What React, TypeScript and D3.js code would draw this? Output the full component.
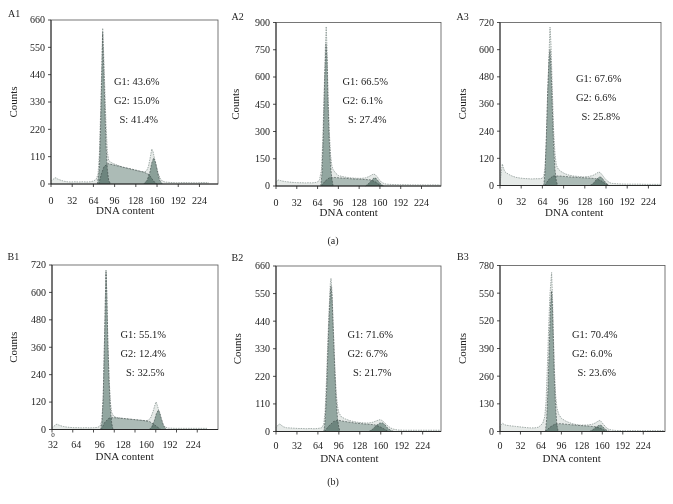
import React from 'react';
import * as d3 from 'd3';

type Pt = [number, number];

// x axis ticks (DNA content channels)
const xTickValues = [0, 32, 64, 96, 128, 160, 192, 224];
// B1 prints its labels shifted
const b1XLabels = [32, 64, 96, 128, 160, 192, 224];

const a1YTicks = [0, 110, 220, 330, 440, 550, 660];
const a2YTicks = [0, 150, 300, 450, 600, 750, 900];
const a3YTicks = [0, 120, 240, 360, 480, 600, 720];
const b1YTicks = [0, 120, 240, 360, 480, 600, 720];
const b2YTicks = [0, 110, 220, 330, 440, 550, 660];
const b3YTicks = [0, 130, 260, 390, 520, 650, 780];
const b3YLabels = ['0', '130', '260', '390', '520', '550', '780'];

const a1Pct = ['G1: 43.6%', 'G2: 15.0%', 'S: 41.4%'];
const a2Pct = ['G1: 66.5%', 'G2: 6.1%', 'S: 27.4%'];
const a3Pct = ['G1: 67.6%', 'G2: 6.6%', 'S: 25.8%'];
const b1Pct = ['G1: 55.1%', 'G2: 12.4%', 'S: 32.5%'];
const b2Pct = ['G1: 71.6%', 'G2: 6.7%', 'S: 21.7%'];
const b3Pct = ['G1: 70.4%', 'G2: 6.0%', 'S: 23.6%'];

// raw histograms [channel, counts]
const a1Raw: Pt[] = [[0,12],[3,18],[6,25],[8,24],[10,20],[13,17],[16,14],[20,11],[25,9],[30,8],[36,9],[42,8],[48,9],[54,8],[60,9],[64,12],[68,18],[71,40],[73,120],[75,300],[77,520],[78,627],[79,560],[81,400],[83,240],[85,130],[87,95],[90,88],[94,82],[98,78],[104,72],[110,66],[116,62],[122,58],[128,54],[134,50],[140,48],[144,52],[147,70],[150,110],[152,141],[154,130],[156,105],[159,70],[162,40],[165,22],[168,12],[172,8],[180,6],[190,5],[200,6],[210,5],[220,5],[230,6],[238,5]];
const a1G1: Pt[] = [[70,0],[73,60],[75,250],[77,480],[78,610],[79,520],[81,330],[83,160],[85,60],[87,15],[90,0]];
const a1S: Pt[] = [[72,0],[76,40],[80,70],[86,82],[95,76],[110,67],[125,58],[140,48],[148,38],[152,22],[156,8],[160,0]];
const a1G2: Pt[] = [[140,0],[145,15],[149,45],[152,85],[155,105],[158,85],[161,45],[164,15],[168,0]];

const a2Raw: Pt[] = [[0,20],[2,30],[4,33],[7,30],[10,27],[15,24],[20,22],[25,20],[30,19],[35,18],[40,18],[45,17],[50,18],[55,17],[60,19],[64,22],[67,35],[70,90],[72,250],[74,500],[76,760],[77.3,878],[78.5,760],[80,520],[82,300],[84,170],[86,110],[88,90],[92,70],[96,58],[102,52],[108,48],[114,45],[120,43],[126,42],[132,42],[138,45],[143,52],[147,60],[150,66],[153,62],[156,50],[159,35],[162,22],[166,14],[170,10],[180,8],[190,7],[200,7],[210,6],[220,6],[230,6],[240,6],[253,6]];
const a2G1: Pt[] = [[69,0],[71,80],[73,300],[75,600],[77,780],[78.5,700],[80,470],[82,250],[84,110],[86,40],[88,0]];
const a2S: Pt[] = [[70,0],[75,25],[82,45],[90,47],[100,44],[115,40],[130,37],[145,34],[152,25],[158,10],[164,0]];
const a2G2: Pt[] = [[138,0],[143,15],[148,35],[151,45],[154,42],[158,25],[162,8],[166,0]];

const a3Raw: Pt[] = [[0,10],[2,60],[3.5,95],[5,80],[7,62],[10,55],[14,48],[18,42],[24,36],[30,33],[36,31],[42,30],[48,29],[54,30],[60,30],[64,32],[66,40],[68,80],[70,200],[72,400],[74,580],[75.5,700],[77,620],[79,420],[81,240],[83,140],[85,90],[88,72],[92,62],[98,52],[104,46],[110,42],[118,40],[126,38],[134,40],[140,44],[145,52],[149,60],[152,55],[155,44],[158,32],[162,20],[166,12],[170,9],[180,7],[190,6],[200,6],[210,6],[220,5],[230,5],[242,5]];
const a3G1: Pt[] = [[66,0],[68,60],[70,220],[72,420],[74,560],[75.5,600],[77,520],[79,340],[81,170],[83,70],[85,20],[87,0]];
const a3S: Pt[] = [[68,0],[73,25],[80,42],[90,42],[105,38],[120,35],[135,33],[145,30],[152,22],[158,10],[164,0]];
const a3G2: Pt[] = [[136,0],[141,10],[146,28],[150,38],[153,36],[157,22],[161,8],[165,0]];

const b1Raw: Pt[] = [[0,8],[3,14],[6,22],[8,23],[10,20],[14,16],[18,13],[22,11],[28,9],[34,8],[40,8],[46,7],[52,8],[58,7],[64,8],[70,9],[74,14],[77,40],[79,150],[81,400],[82.5,600],[83.3,700],[84.5,600],[86,400],[88,230],[90,120],[92,75],[95,58],[100,52],[106,50],[112,48],[118,46],[124,44],[130,42],[136,40],[142,38],[148,40],[152,50],[156,80],[159,110],[160.5,121],[162.5,105],[165,80],[168,45],[171,22],[175,10],[180,6],[190,5],[200,5],[210,5],[220,5],[230,5],[239,5]];
const b1G1: Pt[] = [[75,0],[77,30],[79,140],[81,390],[82.5,590],[83.3,690],[84.5,590],[86,390],[88,210],[90,90],[92,30],[94,0]];
const b1S: Pt[] = [[76,0],[81,30],[88,50],[95,52],[110,48],[125,44],[140,40],[150,35],[156,25],[162,12],[168,0]];
const b1G2: Pt[] = [[150,0],[154,12],[158,40],[161,70],[164,85],[166,75],[169,45],[172,18],[176,0]];

const b2Raw: Pt[] = [[0,15],[2,22],[4,28],[6,30],[8,25],[12,18],[16,15],[22,14],[28,13],[34,12],[40,12],[46,11],[52,12],[58,11],[64,12],[70,15],[73,30],[75,80],[77,200],[79,350],[81,480],[83,590],[84,611],[85.5,560],[87.5,420],[90,250],[92,150],[94,100],[96,75],[100,58],[106,50],[112,44],[118,40],[124,37],[130,35],[136,34],[142,34],[148,37],[153,42],[157,46],[159,47],[162,44],[166,35],[170,24],[175,14],[180,9],[186,6],[195,5],[205,5],[215,5],[225,5],[240,5],[251,5]];
const b2G1: Pt[] = [[73,0],[75,40],[77,140],[79,300],[81,450],[83,560],[84,580],[85.5,540],[87.5,400],[90,230],[92,120],[94,50],[96,15],[98,0]];
const b2S: Pt[] = [[74,0],[80,20],[88,40],[95,45],[105,40],[120,34],[135,30],[150,27],[158,20],[165,10],[172,0]];
const b2G2: Pt[] = [[142,0],[148,10],[153,24],[158,33],[162,35],[166,28],[170,15],[175,5],[180,0]];

const b3Raw: Pt[] = [[0,20],[2,32],[4,39],[6,34],[9,30],[13,28],[18,26],[24,24],[30,22],[36,20],[42,18],[48,17],[54,17],[60,20],[64,30],[67,40],[70,70],[72,140],[74,300],[76,480],[78,640],[80.7,747],[82,640],[83.5,460],[85,300],[87,170],[89,110],[92,80],[96,62],[102,50],[108,42],[114,36],[120,32],[126,30],[132,30],[138,31],[144,34],[149,40],[153,48],[156,52],[158,48],[161,36],[165,22],[169,12],[174,7],[180,5],[190,4],[200,4],[210,4],[220,4],[230,4],[240,4],[256,4]];
const b3G1: Pt[] = [[71,0],[73,60],[75,200],[77,400],[79,590],[80.7,660],[82,580],[83.5,420],[85,250],[87,110],[89,30],[91,0]];
const b3S: Pt[] = [[71,0],[78,20],[86,35],[95,37],[110,32],[125,28],[140,25],[150,22],[157,15],[163,6],[168,0]];
const b3G2: Pt[] = [[140,0],[145,8],[150,20],[154,28],[157,30],[160,25],[164,12],[168,4],[172,0]];

const FONT = '"Liberation Serif", "Times New Roman", serif';

type PanelCfg = {
  name: string; raw: Pt[]; g1: Pt[]; s: Pt[]; g2: Pt[];
  yTicks: number[]; yLabels?: string[]; pct: string[];
  l: number; r: number; t: number; b: number; xMax: number;
  nameX: number; nameY: number; countsX: number;
  textX: number; textY: number; labelOff: number; shifted?: boolean;
};

const panels: PanelCfg[] = [
  { name: 'A1', raw: a1Raw, g1: a1G1, s: a1S, g2: a1G2, yTicks: a1YTicks, pct: a1Pct,
    l: 51, r: 218, t: 20, b: 184, xMax: 252, nameX: 8, nameY: 17, countsX: 13, textX: 114, textY: 84.5, labelOff: 19.5 },
  { name: 'A2', raw: a2Raw, g1: a2G1, s: a2S, g2: a2G2, yTicks: a2YTicks, pct: a2Pct,
    l: 276, r: 441, t: 22.5, b: 186, xMax: 254, nameX: 231.5, nameY: 20, countsX: 235, textX: 342.5, textY: 84.5, labelOff: 19.5 },
  { name: 'A3', raw: a3Raw, g1: a3G1, s: a3S, g2: a3G2, yTicks: a3YTicks, pct: a3Pct,
    l: 500, r: 661, t: 22.5, b: 185.5, xMax: 243, nameX: 456.5, nameY: 19.5, countsX: 461.5, textX: 576, textY: 81.5, labelOff: 19.5 },
  { name: 'B1', raw: b1Raw, g1: b1G1, s: b1S, g2: b1G2, yTicks: b1YTicks, pct: b1Pct,
    l: 52, r: 218, t: 265, b: 429.5, xMax: 256, nameX: 7.5, nameY: 260, countsX: 12.5, textX: 120.5, textY: 338, labelOff: 18, shifted: true },
  { name: 'B2', raw: b2Raw, g1: b2G1, s: b2S, g2: b2G2, yTicks: b2YTicks, pct: b2Pct,
    l: 276, r: 441, t: 266, b: 431.5, xMax: 252, nameX: 231.5, nameY: 260.5, countsX: 236.5, textX: 347.5, textY: 338, labelOff: 17 },
  { name: 'B3', raw: b3Raw, g1: b3G1, s: b3S, g2: b3G2, yTicks: b3YTicks, yLabels: b3YLabels, pct: b3Pct,
    l: 500, r: 665, t: 265.5, b: 431.5, xMax: 258, nameX: 457, nameY: 260, countsX: 461.5, textX: 572, textY: 338, labelOff: 17 },
];

const Panel = ({ p }: { p: PanelCfg }) => {
  const yMax = p.yTicks[p.yTicks.length - 1];
  const x = d3.scaleLinear().domain([0, p.xMax]).range([p.l, p.r]);
  const y = d3.scaleLinear().domain([0, yMax]).range([p.b, p.t]);
  const area = d3.area<Pt>().x(d => x(d[0])).y0(y(0)).y1(d => y(d[1]));
  const line = d3.line<Pt>().x(d => x(d[0])).y(d => y(d[1]));
  const blend: React.CSSProperties = { mixBlendMode: 'multiply' };
  const labelX = d3.scaleLinear().domain([32, 224]).range([x(1.5), x(218)]);

  return (
    <g>
      {/* frame */}
      <rect x={p.l} y={p.t} width={p.r - p.l} height={p.b - p.t} fill="none" stroke="#555" strokeWidth={0.8} />

      {/* histogram and model components */}
      <path d={area(p.raw) || ''} fill="#e6eae8" style={blend} />
      <path d={area(p.s) || ''} fill="#bfccc8" style={blend} />
      <path d={area(p.g1) || ''} fill="#a2b5b0" style={blend} />
      <path d={area(p.g2) || ''} fill="#9aaea8" style={blend} />
      <path d={line(p.raw) || ''} fill="none" stroke="#8c9894" strokeWidth={0.8} strokeDasharray="1.5,1" />
      <path d={line(p.g1) || ''} fill="none" stroke="#3b4744" strokeWidth={0.6} strokeDasharray="2,1.2" />
      <path d={line(p.s) || ''} fill="none" stroke="#3b4744" strokeWidth={0.6} strokeDasharray="2,1.2" />
      <path d={line(p.g2) || ''} fill="none" stroke="#3b4744" strokeWidth={0.6} strokeDasharray="2,1.2" />

      {/* axes */}
      <line x1={p.l} x2={p.l} y1={p.t} y2={p.b} stroke="#222" strokeWidth={0.9} />
      <line x1={p.l} x2={p.r} y1={p.b} y2={p.b} stroke="#222" strokeWidth={0.9} />
      {p.yTicks.map((v, i) => (
        <g key={'y' + v}>
          <line x1={p.l - 3} x2={p.l} y1={y(v)} y2={y(v)} stroke="#222" strokeWidth={0.8} />
          <text x={p.l - 6} y={y(v)} dy="0.34em" textAnchor="end" fontSize={10} fontFamily={FONT} fill="#222">
            {p.yLabels ? p.yLabels[i] : v}
          </text>
        </g>
      ))}
      {xTickValues.map(v => (
        <line key={'xt' + v} x1={x(v)} x2={x(v)} y1={p.b} y2={p.b + 3} stroke="#222" strokeWidth={0.8} />
      ))}
      {p.shifted ? (
        <g fontSize={10} fontFamily={FONT} fill="#222" textAnchor="middle">
          <text x={x(0) + 1} y={p.b + 7.5} fontSize={7}>0</text>
          {b1XLabels.map(v => (
            <text key={'xl' + v} x={labelX(v)} y={p.b + p.labelOff}>{v}</text>
          ))}
        </g>
      ) : (
        <g fontSize={10} fontFamily={FONT} fill="#222" textAnchor="middle">
          {xTickValues.map(v => (
            <text key={'xl' + v} x={x(v)} y={p.b + p.labelOff}>{v}</text>
          ))}
        </g>
      )}

      {/* titles */}
      <text x={p.nameX} y={p.nameY} fontSize={10} fontFamily={FONT} fill="#222">{p.name}</text>
      <text transform={`translate(${p.countsX + 4},${(p.t + p.b) / 2}) rotate(-90)`} textAnchor="middle"
        fontSize={11} fontFamily={FONT} fill="#222">Counts</text>
      <text x={x(112)} y={p.b + 30} textAnchor="middle" fontSize={11} fontFamily={FONT} fill="#222">DNA content</text>

      {/* phase percentages */}
      <g fontSize={10.5} fontFamily={FONT} fill="#222">
        <text x={p.textX} y={p.textY}>{p.pct[0]}</text>
        <text x={p.textX} y={p.textY + 19}>{p.pct[1]}</text>
        <text x={p.textX + 5.5} y={p.textY + 38.3}>{p.pct[2]}</text>
      </g>
    </g>
  );
};

export default function App() {
  return (
    <svg width={673} height={504} style={{ position: 'absolute', left: 0, top: 0, background: '#fff' }}>
      <rect width={673} height={504} fill="#fff" />
      {panels.map(p => <Panel key={p.name} p={p} />)}
      <text x={333} y={243.5} textAnchor="middle" fontSize={10} fontFamily={FONT} fill="#222">(a)</text>
      <text x={333} y={485} textAnchor="middle" fontSize={10} fontFamily={FONT} fill="#222">(b)</text>
    </svg>
  );
}
